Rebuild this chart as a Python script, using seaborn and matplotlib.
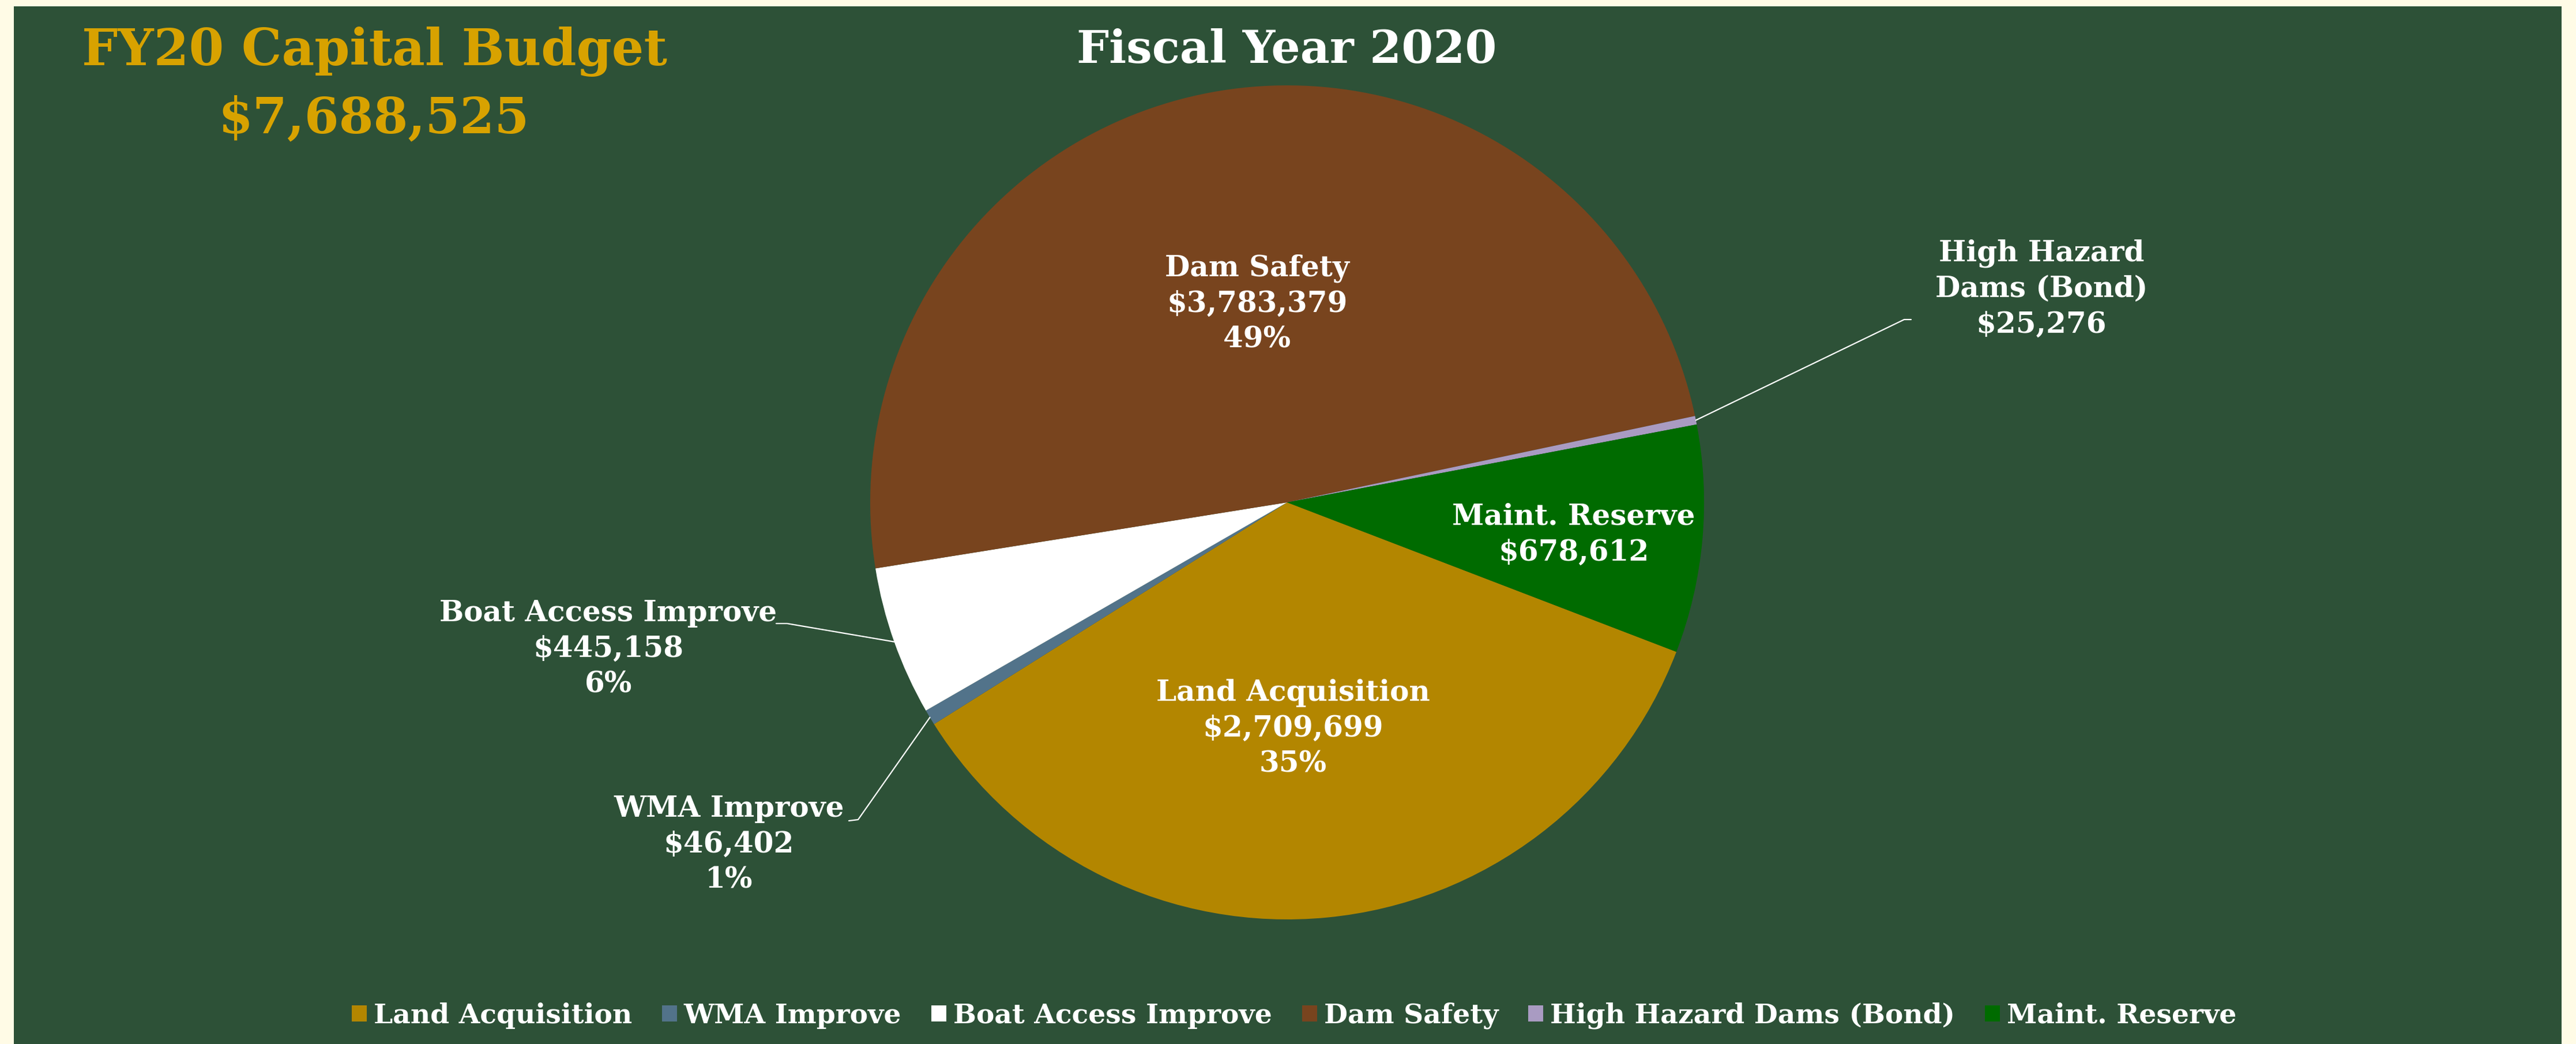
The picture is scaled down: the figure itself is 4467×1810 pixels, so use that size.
import numpy as np
import matplotlib
matplotlib.use("Agg")
import matplotlib.pyplot as plt
import seaborn as sns
from matplotlib.patches import Rectangle

# FY20 capital budget by program
categories = ["Land Acquisition", "WMA Improve", "Boat Access Improve",
              "Dam Safety", "High Hazard Dams (Bond)", "Maint. Reserve"]
label_names = ["Land Acquisition", "WMA Improve", "Boat Access Improve",
               "Dam Safety", "High Hazard\nDams (Bond)", "Maint. Reserve"]
amounts = [2709699, 46402, 445158, 3783379, 25276, 678612]
show_percent = [True, True, True, True, False, False]
colors = ["#B38600", "#52738A", "#FFFFFF", "#78441E", "#A99BC2", "#006B00"]
total_budget = 7688525
chart_title = "Fiscal Year 2020"
headline = "FY20 Capital Budget"

W, H, DPI = 4467, 1810, 100
GREEN = "#2D5137"
CREAM = "#FFFBE6"
GOLD = "#D8A200"

sns.set_theme(style="white")
plt.rcParams["font.family"] = ["DejaVu Serif"]
plt.rcParams["font.weight"] = "bold"

fig = plt.figure(figsize=(W / DPI, H / DPI), dpi=DPI, facecolor=CREAM)


def fx(px):
    return px / W


def fy(py):
    return 1 - py / H


# green panel inside the cream border
fig.patches.append(Rectangle((fx(24), 0), fx(4442) - fx(24), fy(11),
                             transform=fig.transFigure, facecolor=GREEN,
                             edgecolor="none", zorder=-5))

# pie axes: centre and radius in pixels
cx, cy, rad = 2232, 871, 723
ax = fig.add_axes([fx(cx - rad), fy(cy + rad), 2 * rad / W, 2 * rad / H])
ax.set_zorder(2)
wedges, _ = ax.pie(amounts, colors=colors, startangle=-21, counterclock=False,
                   radius=1, wedgeprops=dict(linewidth=0))
ax.set_xlim(-1, 1)
ax.set_ylim(-1, 1)
ax.axis("off")


def to_data(px, py):
    return (px - cx) / rad, (cy - py) / rad


# data labels: block centres in pixels
label_pos = [(2242, 1263), (1264, 1464), (1055, 1125),
             (2180, 527), (3540, 501), (2729, 927)]
total = sum(amounts)
for name, amt, pct_on, (px, py) in zip(label_names, amounts, show_percent, label_pos):
    txt = f"{name}\n${amt:,.0f}"
    if pct_on:
        txt += f"\n{100 * amt / total:.0f}%"
    fig.text(fx(px), fy(py), txt, ha="center", va="center",
             multialignment="center", fontsize=36, color="white",
             fontweight="bold", linespacing=1.34, zorder=10)

# leader lines from slice edge to the outside labels
leader_elbows = {1: [(1488, 1421), (1472, 1423)],
                 2: [(1365, 1081), (1346, 1081)],
                 4: [(3302, 554), (3314, 554)]}
for i, pts in leader_elbows.items():
    w = wedges[i]
    mid = np.deg2rad((w.theta1 + w.theta2) / 2)
    xs = [np.cos(mid)]
    ys = [np.sin(mid)]
    for px, py in pts:
        dx, dy = to_data(px, py)
        xs.append(dx)
        ys.append(dy)
    ax.plot(xs, ys, color="white", lw=1.6, clip_on=False, zorder=5)

# titles
fig.text(fx(649), fy(113), headline, ha="center", va="baseline",
         fontsize=63, color=GOLD, fontweight="bold")
fig.text(fx(648), fy(230), f"${total_budget:,}", ha="center", va="baseline",
         fontsize=62, color=GOLD, fontweight="bold")
fig.text(fx(2231), fy(109), chart_title, ha="center", va="baseline",
         fontsize=57, color="white", fontweight="bold")

# legend along the bottom
fig.legend(wedges, categories, loc="center", bbox_to_anchor=(fx(2244), fy(1761)),
           ncol=6, frameon=False, prop={"weight": "bold", "size": 34},
           labelcolor="white", handlelength=0.55, handleheight=0.55,
           handletextpad=0.25, columnspacing=1.1)

fig.savefig("out.png", dpi=DPI, facecolor=CREAM)
